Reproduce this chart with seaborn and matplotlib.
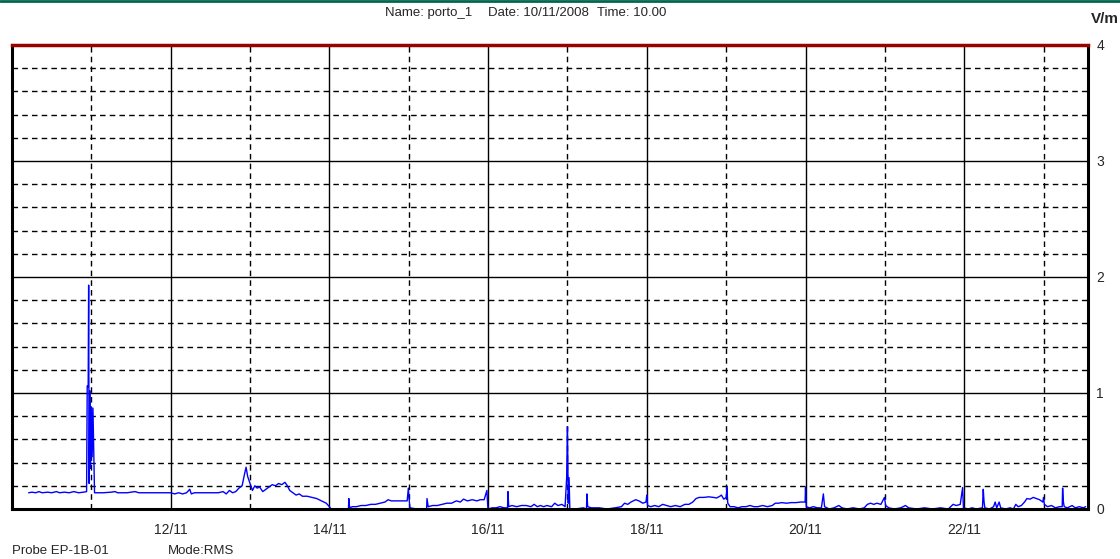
import numpy as np
import pandas as pd
import matplotlib
matplotlib.use("Agg")
import matplotlib.pyplot as plt
from matplotlib.lines import Line2D
import seaborn as sns

# time in days of November 2008, field in V/m
days = [
    10.21, 10.25, 10.30, 10.34, 10.38, 10.45, 10.50, 10.56, 10.60, 10.66, 10.72, 10.78, 10.84, 10.90, 10.94,
    10.948, 10.960, 10.966, 10.972, 10.980, 10.990, 11.000, 11.010, 11.020, 11.030, 11.040,
    11.06, 11.15, 11.25, 11.30, 11.33, 11.45, 11.55, 11.60, 11.75, 11.90, 12.00,
    12.05, 12.10, 12.15, 12.20, 12.24, 12.26, 12.30, 12.40, 12.50, 12.60, 12.66, 12.70, 12.74, 12.78, 12.82,
    12.86, 12.90, 12.93, 12.95, 12.97, 13.00, 13.03, 13.06, 13.09, 13.12, 13.16, 13.20, 13.24, 13.28, 13.32,
    13.36, 13.40, 13.44, 13.47, 13.50, 13.54, 13.58, 13.62, 13.66, 13.72, 13.78, 13.84, 13.90, 13.96, 14.00,
    14.02, 14.10, 14.20, 14.24, 14.245, 14.255, 14.29, 14.34, 14.40, 14.46, 14.52, 14.58, 14.64, 14.70, 14.74,
    14.78, 14.85, 14.92, 14.98, 14.995, 15.005, 15.015, 15.10, 15.20, 15.225, 15.23, 15.245, 15.30, 15.36,
    15.42, 15.48, 15.54, 15.60, 15.65, 15.69, 15.74, 15.80, 15.86, 15.90, 15.95, 15.985, 15.995, 16.00,
    16.05, 16.10, 16.15, 16.20, 16.245, 16.25, 16.26, 16.30, 16.36, 16.42, 16.48, 16.54, 16.58, 16.62,
    16.66, 16.70, 16.74, 16.80, 16.84, 16.88, 16.93, 16.97, 16.99, 17.00, 17.01, 17.02, 17.03, 17.10,
    17.20, 17.24, 17.245, 17.255, 17.30, 17.40, 17.50, 17.60, 17.68, 17.72, 17.76, 17.80, 17.86, 17.90,
    17.95, 17.99, 18.00, 18.01, 18.05, 18.10, 18.15, 18.20, 18.25, 18.30, 18.36, 18.42, 18.48, 18.53,
    18.58, 18.62, 18.66, 18.72, 18.78, 18.84, 18.88, 18.92, 18.94, 18.97, 19.00, 19.01, 19.02, 19.05,
    19.10, 19.15, 19.20, 19.25, 19.30, 19.35, 19.40, 19.46, 19.52, 19.58, 19.62, 19.66, 19.70, 19.76,
    19.82, 19.88, 19.94, 19.995, 20.00, 20.01, 20.05, 20.10, 20.15, 20.20, 20.225, 20.24, 20.30, 20.36,
    20.42, 20.46, 20.52, 20.60, 20.68, 20.74, 20.78, 20.82, 20.86, 20.90, 20.95, 20.995, 21.01, 21.05,
    21.12, 21.20, 21.26, 21.30, 21.40, 21.50, 21.60, 21.70, 21.80, 21.86, 21.90, 21.95, 21.98, 21.99,
    22.05, 22.10, 22.15, 22.23, 22.24, 22.25, 22.26, 22.32, 22.37, 22.39, 22.41, 22.44, 22.46, 22.52,
    22.58, 22.62, 22.65, 22.68, 22.72, 22.76, 22.79, 22.83, 22.87, 22.91, 22.95, 22.99, 23.00, 23.01,
    23.05, 23.10, 23.15, 23.20, 23.235, 23.24, 23.25, 23.26, 23.30, 23.36, 23.40, 23.45, 23.50, 23.53,
]
field = [
    0.14, 0.145, 0.14, 0.15, 0.14, 0.145, 0.14, 0.15, 0.14, 0.145, 0.14, 0.15, 0.14, 0.145, 0.15,
    1.06, 1.05, 1.93, 0.22, 1.02, 0.35, 0.88, 0.45, 0.87, 0.52, 0.14,
    0.14, 0.14, 0.145, 0.15, 0.14, 0.14, 0.15, 0.14, 0.14, 0.14, 0.14,
    0.13, 0.14, 0.13, 0.14, 0.17, 0.13, 0.14, 0.14, 0.14, 0.14, 0.15, 0.13, 0.16, 0.14, 0.15,
    0.18, 0.20, 0.30, 0.36, 0.28, 0.22, 0.16, 0.20, 0.18, 0.19, 0.15, 0.17, 0.19, 0.21, 0.20,
    0.22, 0.21, 0.23, 0.20, 0.16, 0.14, 0.12, 0.13, 0.11, 0.11, 0.10, 0.09, 0.07, 0.05, 0.02,
    0.0, 0.0, 0.0, 0.0, 0.09, 0.01, 0.02, 0.02, 0.03, 0.03, 0.04, 0.04, 0.05, 0.06, 0.08,
    0.07, 0.07, 0.07, 0.07, 0.18, 0.08, 0.01, 0.0, 0.0, 0.0, 0.09, 0.02, 0.03, 0.03,
    0.04, 0.05, 0.05, 0.07, 0.06, 0.085, 0.07, 0.08, 0.07, 0.08, 0.08, 0.16, 0.03, 0.0,
    0.01, 0.01, 0.02, 0.01, 0.01, 0.15, 0.02, 0.03, 0.02, 0.03, 0.03, 0.02, 0.04, 0.02,
    0.03, 0.02, 0.03, 0.02, 0.05, 0.03, 0.04, 0.02, 0.27, 0.71, 0.05, 0.27, 0.0, 0.0,
    0.01, 0.0, 0.13, 0.02, 0.01, 0.01, 0.0, 0.01, 0.02, 0.05, 0.04, 0.06, 0.08, 0.07,
    0.05, 0.06, 0.12, 0.03, 0.02, 0.03, 0.02, 0.04, 0.03, 0.02, 0.03, 0.02, 0.04, 0.04,
    0.06, 0.09, 0.10, 0.10, 0.105, 0.10, 0.095, 0.11, 0.12, 0.085, 0.10, 0.185, 0.05, 0.02,
    0.02, 0.01, 0.02, 0.02, 0.03, 0.02, 0.02, 0.03, 0.02, 0.03, 0.05, 0.05, 0.055, 0.05,
    0.055, 0.055, 0.06, 0.06, 0.185, 0.02, 0.01, 0.02, 0.01, 0.01, 0.13, 0.02, 0.0, 0.01,
    0.03, 0.01, 0.0, 0.01, 0.0, 0.01, 0.04, 0.05, 0.04, 0.05, 0.04, 0.10, 0.03, 0.01,
    0.0, 0.01, 0.03, 0.01, 0.0, 0.01, 0.0, 0.01, 0.0, 0.04, 0.03, 0.04, 0.185, 0.01,
    0.0, 0.01, 0.0, 0.01, 0.17, 0.06, 0.01, 0.0, 0.02, 0.06, 0.01, 0.06, 0.01, 0.0,
    0.01, 0.0, 0.04, 0.02, 0.03, 0.06, 0.09, 0.085, 0.10, 0.09, 0.08, 0.06, 0.10, 0.04,
    0.02, 0.03, 0.01, 0.02, 0.02, 0.18, 0.06, 0.02, 0.01, 0.03, 0.01, 0.02, 0.01, 0.02,
]

major_days = [12, 14, 16, 18, 20, 22]
major_labels = ["12/11", "14/11", "16/11", "18/11", "20/11", "22/11"]
minor_days = [11, 13, 15, 17, 19, 21, 23]
y_major = [0, 1, 2, 3, 4]

df = pd.DataFrame({"day": days, "field": field})

sns.set_style("white")
plt.rcParams["font.family"] = ["Liberation Sans", "DejaVu Sans"]

fig = plt.figure(figsize=(11.2, 5.59), dpi=100)
ax = fig.add_axes([12 / 1120, 50 / 559, 1076 / 1120, 464 / 559])

sns.lineplot(data=df, x="day", y="field", ax=ax, color="#0000ff",
             linewidth=1.0, estimator=None, sort=False)

ax.set_xlim(10.0, 23.56)
ax.set_ylim(0, 4)

ax.set_xticks(major_days)
ax.set_xticklabels(major_labels)
ax.set_xticks(minor_days, minor=True)
ax.set_yticks(y_major)
ax.set_yticks(np.arange(0.2, 4.0, 0.2), minor=True)
ax.yaxis.tick_right()

ax.grid(which="major", color="black", linewidth=1.0, linestyle="-")
ax.grid(which="minor", color="black", linewidth=1.0, linestyle=(0, (4, 3)))
ax.set_axisbelow(True)

ax.tick_params(which="both", length=0)
ax.tick_params(axis="x", pad=10, labelsize=10)
ax.tick_params(axis="y", pad=6, labelsize=10)
ax.set_xlabel("")
ax.set_ylabel("")

for side in ["left", "bottom", "right"]:
    ax.spines[side].set_color("black")
    ax.spines[side].set_linewidth(2.2)
    ax.spines[side].set_visible(True)
ax.spines["top"].set_color("#990000")
ax.spines["top"].set_linewidth(2.5)
ax.spines["top"].set_visible(True)

# green frame line at top of the window
fig.add_artist(Line2D([0, 1], [0.998, 0.998], color="#006650", linewidth=2,
                      transform=fig.transFigure))

fig.text(385 / 1120, 1 - 13 / 559, "Name: porto_1", fontsize=9.5, va="center", ha="left")
fig.text(488 / 1120, 1 - 13 / 559, "Date: 10/11/2008", fontsize=9.5, va="center", ha="left")
fig.text(597 / 1120, 1 - 13 / 559, "Time: 10.00", fontsize=9.5, va="center", ha="left")
fig.text(1119 / 1120, 1 - 19 / 559, "V/m", fontsize=11, fontweight="bold", va="center", ha="right")
fig.text(12 / 1120, 1 - 551 / 559, "Probe EP-1B-01", fontsize=9.5, va="center", ha="left")
fig.text(168 / 1120, 1 - 551 / 559, "Mode:RMS", fontsize=9.5, va="center", ha="left")

fig.savefig("out.png", dpi=100, facecolor="white")
